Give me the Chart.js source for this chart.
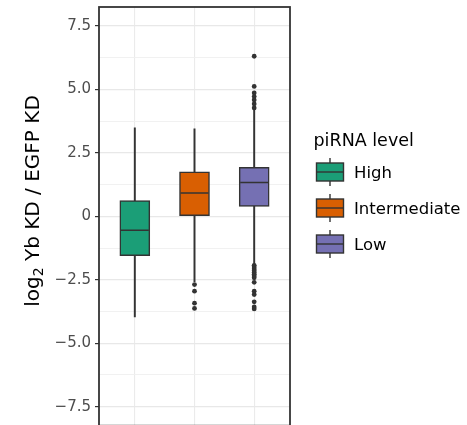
<!DOCTYPE html>
<html>
<head>
<meta charset="utf-8">
<script src="https://cdn.jsdelivr.net/npm/chart.js@4.4.1/dist/chart.umd.min.js"></script>
<style>
  html, body { margin: 0; padding: 0; background: #ffffff; overflow: hidden; }
  #wrap { position: relative; width: 467px; height: 440px; }
</style>
</head>
<body>
<div id="wrap"><canvas id="boxChart"></canvas></div>
<script>
// Dados
const categories = ['High', 'Intermediate', 'Low'];
const boxColors = ['#1b9e77', '#d95f02', '#7570b3'];
const whiskerLow = [-3.96, -2.57, -1.90];
const q1 = [-1.55, 0.00, 0.39];
const medians = [-0.55, 0.92, 1.33];
const q3 = [0.62, 1.75, 1.93];
const whiskerHigh = [3.49, 3.45, 4.20];
const outliersHigh = [];
const outliersIntermediate = [-2.69, -2.95, -3.42, -3.63];
const outliersLow = [6.31, 5.12, 4.86, 4.72, 4.59, 4.43, 4.27,
    -1.93, -2.00, -2.07, -2.14, -2.21, -2.28, -2.35, -2.42, -2.60, -2.95, -3.08, -3.37, -3.57, -3.65];

const yTickValues = [-7.5, -5, -2.5, 0, 2.5, 5, 7.5];
const yTickLabels = ['\u22127.5', '\u22125.0', '\u22122.5', '0', '2.5', '5.0', '7.5'];
const yMinorValues = [-6.25, -3.75, -1.25, 1.25, 3.75, 6.25];

const yTitleParts = ['log', '2', ' Yb KD / EGFP KD'];
const legendTitle = 'piRNA level';

const FONT = '"DejaVu Sans", sans-serif';
const DARK = '#333333';

Chart.defaults.font.family = FONT;

// Moldura do painel
const panelFrame = {
    id: 'panelFrame',
    afterDraw(chart) {
        const { ctx, chartArea: a } = chart;
        ctx.save();
        ctx.strokeStyle = DARK;
        ctx.lineWidth = 1.8;
        ctx.strokeRect(a.left, a.top, a.right - a.left, a.bottom - a.top);
        ctx.restore();
    }
};

// Título do eixo y com subscrito
const yTitle = {
    id: 'yTitle',
    afterDraw(chart) {
        const ctx = chart.ctx;
        const big = '20px ' + FONT;
        const small = '14px ' + FONT;
        ctx.save();
        ctx.fillStyle = '#000000';
        ctx.font = big;
        const w1 = ctx.measureText(yTitleParts[0]).width;
        const w3 = ctx.measureText(yTitleParts[2]).width;
        ctx.font = small;
        const w2 = ctx.measureText(yTitleParts[1]).width;
        ctx.translate(38.5, 201);
        ctx.rotate(-Math.PI / 2);
        ctx.textAlign = 'left';
        ctx.textBaseline = 'alphabetic';
        let u = -(w1 + w2 + w3) / 2;
        ctx.font = big;
        ctx.fillText(yTitleParts[0], u, 0);
        u += w1;
        ctx.font = small;
        ctx.fillText(yTitleParts[1], u, 4);
        u += w2;
        ctx.font = big;
        ctx.fillText(yTitleParts[2], u, 0);
        ctx.restore();
    }
};

// Legenda com glifos de boxplot
const boxLegend = {
    id: 'boxLegend',
    afterDraw(chart) {
        const { ctx, chartArea } = chart;
        const x0 = chartArea.right + 23.5;
        ctx.save();
        ctx.textAlign = 'left';
        ctx.textBaseline = 'alphabetic';
        ctx.fillStyle = '#000000';
        ctx.font = '17.5px ' + FONT;
        ctx.fillText(legendTitle, x0, 145.5);
        categories.forEach((cat, i) => {
            const cy = 172 + i * 36;
            const kx = x0 + 3, kw = 27, kh = 18;
            ctx.strokeStyle = DARK;
            ctx.lineWidth = 1.4;
            ctx.beginPath();
            ctx.moveTo(kx + kw / 2, cy - kh / 2 - 5);
            ctx.lineTo(kx + kw / 2, cy + kh / 2 + 5);
            ctx.stroke();
            ctx.fillStyle = boxColors[i];
            ctx.fillRect(kx, cy - kh / 2, kw, kh);
            ctx.strokeRect(kx, cy - kh / 2, kw, kh);
            ctx.beginPath();
            ctx.moveTo(kx, cy);
            ctx.lineTo(kx + kw, cy);
            ctx.stroke();
            ctx.fillStyle = '#000000';
            ctx.font = '16.5px ' + FONT;
            ctx.fillText(cat, kx + kw + 10.5, cy + 6);
        });
        ctx.restore();
    }
};

function initializeBoxChart() {
    const ctx = document.getElementById('boxChart');
    if (!ctx) return;

    const outlierPoints = [];
    [outliersHigh, outliersIntermediate, outliersLow].forEach((list, i) => {
        list.forEach(v => outlierPoints.push({ x: i + 1, y: v }));
    });

    new Chart(ctx, {
        type: 'bar',
        data: {
            datasets: [{
                label: 'outliers',
                type: 'scatter',
                data: outlierPoints,
                pointRadius: 2.4,
                pointBackgroundColor: DARK,
                pointBorderWidth: 0,
                order: 0
            }, {
                label: 'medians',
                type: 'scatter',
                data: categories.map((c, i) => ({ x: i + 1, y: medians[i] })),
                pointStyle: 'line',
                pointRadius: 14,
                pointBorderColor: DARK,
                pointBorderWidth: 1.5,
                order: 1
            }, {
                label: 'boxes',
                data: categories.map((c, i) => ({ x: i + 1, y: [q1[i], q3[i]] })),
                backgroundColor: boxColors,
                borderColor: DARK,
                borderWidth: 1.5,
                borderSkipped: false,
                barThickness: 30,
                grouped: false,
                order: 2
            }, {
                label: 'whiskers',
                data: categories.map((c, i) => ({ x: i + 1, y: [whiskerLow[i], whiskerHigh[i]] })),
                backgroundColor: DARK,
                borderWidth: 0,
                barThickness: 1.3,
                grouped: false,
                order: 3
            }]
        },
        options: {
            responsive: true,
            maintainAspectRatio: false,
            animation: false,
            events: [],
            layout: {
                autoPadding: false,
                padding: { left: 0, top: 7, right: 177, bottom: 14.3 }
            },
            plugins: {
                legend: { display: false },
                tooltip: { enabled: false }
            },
            scales: {
                x: {
                    type: 'linear',
                    min: 0.4,
                    max: 3.6,
                    offset: false,
                    afterBuildTicks: scale => {
                        scale.ticks = categories.map((c, i) => ({ value: i + 1 }));
                    },
                    afterFit: scale => {
                        scale.height = 0;
                        scale.paddingLeft = 0;
                        scale.paddingRight = 0;
                    },
                    ticks: { display: false },
                    grid: { color: '#ebebeb', lineWidth: 1.1, drawTicks: false, offset: false },
                    border: { display: false }
                },
                y: {
                    type: 'linear',
                    min: -8.25,
                    max: 8.25,
                    afterBuildTicks: scale => {
                        scale.ticks = yTickValues.concat(yMinorValues)
                            .sort((a, b) => a - b)
                            .map(v => ({ value: v }));
                    },
                    afterFit: scale => {
                        scale.width = 99;
                        scale.paddingTop = 0;
                        scale.paddingBottom = 0;
                    },
                    ticks: {
                        padding: 4,
                        color: '#4d4d4d',
                        font: { size: 15 },
                        callback: function(value) {
                            const i = yTickValues.indexOf(value);
                            return i >= 0 ? yTickLabels[i] : '';
                        }
                    },
                    grid: {
                        color: c => (c.tick && yTickValues.indexOf(c.tick.value) >= 0) ? '#e8e8e8' : '#efefef',
                        lineWidth: c => (c.tick && yTickValues.indexOf(c.tick.value) >= 0) ? 1.2 : 0.9,
                        tickLength: 4,
                        tickWidth: 1.2,
                        tickColor: c => (c.tick && yTickValues.indexOf(c.tick.value) >= 0) ? DARK : 'rgba(0,0,0,0)'
                    },
                    border: { display: false }
                }
            }
        },
        plugins: [panelFrame, yTitle, boxLegend]
    });
}

document.addEventListener('DOMContentLoaded', initializeBoxChart);
</script>
</body>
</html>
